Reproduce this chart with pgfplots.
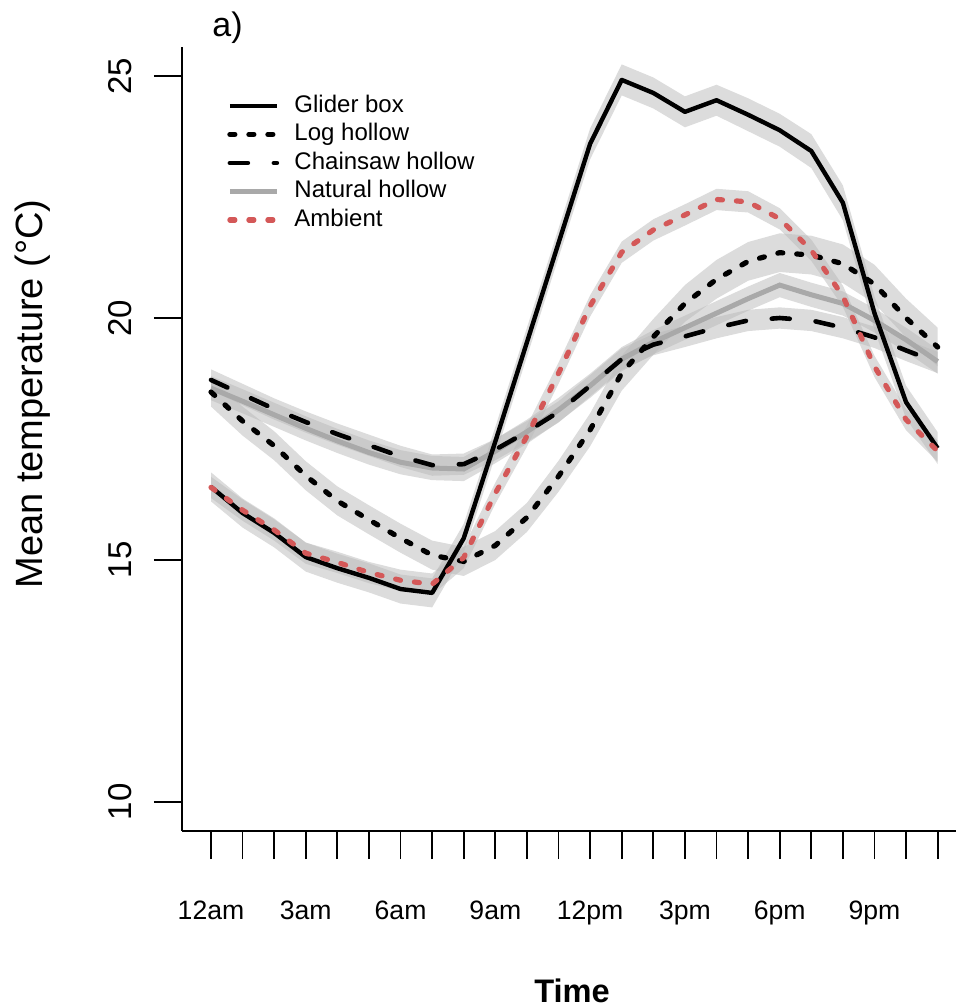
\documentclass[border=0pt]{standalone}
\usepackage{fontspec}
\setmainfont{Liberation Sans}
\usepackage{pgfplots}
\usepackage{pgfplotstable}
\usepgfplotslibrary{fillbetween}
\pgfplotsset{compat=1.18}

\definecolor{ambred}{RGB}{212,88,88}
\definecolor{natgrey}{RGB}{169,169,169}
\definecolor{bandgrey}{RGB}{185,185,185}

% hour, mean, lower and upper band
\pgfplotstableread{
h m lo hi
0 16.51 16.21 16.81
1 15.97 15.67 16.27
2 15.56 15.26 15.86
3 15.06 14.76 15.36
4 14.83 14.53 15.13
5 14.63 14.33 14.93
6 14.40 14.10 14.70
7 14.32 14.02 14.62
8 15.45 15.15 15.75
9 17.45 17.15 17.75
10 19.50 19.20 19.80
11 21.55 21.25 21.85
12 23.60 23.28 23.92
13 24.92 24.60 25.24
14 24.65 24.33 24.97
15 24.26 23.94 24.58
16 24.50 24.18 24.82
17 24.20 23.86 24.54
18 23.88 23.54 24.22
19 23.45 23.10 23.80
20 22.38 22.02 22.74
21 20.10 19.75 20.45
22 18.26 17.92 18.60
23 17.31 16.98 17.64
}\glider

\pgfplotstableread{
h m lo hi
0 18.47 18.17 18.77
1 17.87 17.57 18.17
2 17.36 17.06 17.66
3 16.74 16.44 17.04
4 16.22 15.92 16.52
5 15.83 15.53 16.13
6 15.45 15.15 15.75
7 15.10 14.80 15.40
8 14.97 14.67 15.27
9 15.30 15.00 15.60
10 15.88 15.58 16.18
11 16.73 16.41 17.05
12 17.69 17.35 18.03
13 18.86 18.50 19.22
14 19.61 19.24 19.98
15 20.30 19.92 20.68
16 20.80 20.40 21.20
17 21.17 20.77 21.57
18 21.35 20.95 21.75
19 21.30 20.90 21.70
20 21.12 20.72 21.52
21 20.70 20.30 21.10
22 20.00 19.60 20.40
23 19.40 19.00 19.80
}\loghollow

\pgfplotstableread{
h m lo hi
0 18.72 18.50 18.94
1 18.42 18.20 18.64
2 18.12 17.90 18.34
3 17.85 17.63 18.07
4 17.60 17.38 17.82
5 17.37 17.15 17.59
6 17.14 16.92 17.36
7 16.96 16.74 17.18
8 16.98 16.76 17.20
9 17.28 17.06 17.50
10 17.65 17.43 17.87
11 18.06 17.84 18.28
12 18.60 18.38 18.82
13 19.15 18.93 19.37
14 19.45 19.23 19.67
15 19.62 19.40 19.84
16 19.80 19.58 20.02
17 19.95 19.73 20.17
18 20.00 19.78 20.22
19 19.95 19.73 20.17
20 19.80 19.58 20.02
21 19.60 19.38 19.82
22 19.33 19.11 19.55
23 19.08 18.86 19.30
}\chainsaw

\pgfplotstableread{
h m lo hi
0 18.55 18.30 18.80
1 18.28 18.03 18.53
2 18.00 17.75 18.25
3 17.72 17.47 17.97
4 17.46 17.21 17.71
5 17.22 16.97 17.47
6 17.02 16.77 17.27
7 16.90 16.65 17.15
8 16.88 16.63 17.13
9 17.25 17.00 17.50
10 17.65 17.40 17.90
11 18.10 17.85 18.35
12 18.60 18.35 18.85
13 19.15 18.90 19.40
14 19.50 19.25 19.75
15 19.80 19.55 20.05
16 20.10 19.85 20.35
17 20.40 20.15 20.65
18 20.68 20.43 20.93
19 20.48 20.23 20.73
20 20.30 20.05 20.55
21 19.95 19.70 20.20
22 19.55 19.30 19.80
23 19.10 18.85 19.35
}\natholl

\pgfplotstableread{
h m lo hi
0 16.50 16.28 16.72
1 16.03 15.81 16.25
2 15.62 15.40 15.84
3 15.14 14.92 15.36
4 14.95 14.73 15.17
5 14.74 14.52 14.96
6 14.58 14.36 14.80
7 14.50 14.28 14.72
8 15.05 14.83 15.27
9 16.38 16.16 16.60
10 17.56 17.34 17.78
11 18.86 18.64 19.08
12 20.25 20.03 20.47
13 21.36 21.14 21.58
14 21.82 21.60 22.04
15 22.13 21.91 22.35
16 22.45 22.23 22.67
17 22.40 22.18 22.62
18 22.05 21.83 22.27
19 21.40 21.18 21.62
20 20.45 20.23 20.67
21 19.00 18.78 19.22
22 17.90 17.68 18.12
23 17.25 17.03 17.47
}\ambient

\begin{document}
\begin{tikzpicture}
\begin{axis}[
    at={(91pt,88.5pt)}, anchor=south west,
    scale only axis, width=387pt, height=392pt,
    xmin=-0.918, xmax=23.58, ymin=9.40, ymax=25.60,
    axis x line=bottom, axis y line=left,
    axis line style={-, line width=1pt},
    xtick={0,...,23},
    xticklabels={12am,,,3am,,,6am,,,9am,,,12pm,,,3pm,,,6pm,,,9pm,,},
    ytick={10,15,20,25},
    tick align=outside, major tick length=14pt,
    tick style={line width=0.9pt, black},
    /pgf/number format/assume math mode=true,
    xticklabel style={font=\fontsize{13.3}{16}\selectfont, anchor=base, yshift=-30pt},
    yticklabel style={font=\fontsize{16.5}{20}\selectfont, rotate=90, anchor=base, yshift=11pt},
    legend style={at={(axis description cs:0.058,0.94)}, anchor=north west,
        draw=none, fill=none, inner sep=0pt,
        font=\fontsize{12}{14}\selectfont,
        nodes={inner sep=0pt, text height=9pt, text depth=2.5pt},
        row sep=2.75pt, column sep=7.5pt},
    legend cell align=left,
    legend image code/.code={\draw[#1] (0pt,0pt) -- (23.5pt,0pt);},
]
% confidence bands
\addplot[name path=gH, draw=none, forget plot] table[x=h,y=hi]{\glider};
\addplot[name path=gL, draw=none, forget plot] table[x=h,y=lo]{\glider};
\addplot[fill=bandgrey, fill opacity=0.5, draw=none, forget plot] fill between[of=gH and gL];
\addplot[name path=lH, draw=none, forget plot] table[x=h,y=hi]{\loghollow};
\addplot[name path=lL, draw=none, forget plot] table[x=h,y=lo]{\loghollow};
\addplot[fill=bandgrey, fill opacity=0.5, draw=none, forget plot] fill between[of=lH and lL];
\addplot[name path=cH, draw=none, forget plot] table[x=h,y=hi]{\chainsaw};
\addplot[name path=cL, draw=none, forget plot] table[x=h,y=lo]{\chainsaw};
\addplot[fill=bandgrey, fill opacity=0.5, draw=none, forget plot] fill between[of=cH and cL];
\addplot[name path=nH, draw=none, forget plot] table[x=h,y=hi]{\natholl};
\addplot[name path=nL, draw=none, forget plot] table[x=h,y=lo]{\natholl};
\addplot[fill=bandgrey, fill opacity=0.5, draw=none, forget plot] fill between[of=nH and nL];
\addplot[name path=aH, draw=none, forget plot] table[x=h,y=hi]{\ambient};
\addplot[name path=aL, draw=none, forget plot] table[x=h,y=lo]{\ambient};
\addplot[fill=bandgrey, fill opacity=0.5, draw=none, forget plot] fill between[of=aH and aL];

% mean lines
\addplot[natgrey, line width=2.5pt, forget plot] table[x=h,y=m]{\natholl};
\addplot[black, line width=2.2pt, line join=round, forget plot] table[x=h,y=m]{\glider};
\addplot[black, line width=2.6pt, line cap=round, dash pattern=on 2.5pt off 7pt, forget plot] table[x=h,y=m]{\loghollow};
\addplot[black, line width=2.3pt, line cap=round, dash pattern=on 9pt off 13pt, forget plot] table[x=h,y=m]{\chainsaw};
\addplot[ambred, line width=2.6pt, line cap=round, dash pattern=on 2.5pt off 7pt, forget plot] table[x=h,y=m]{\ambient};

\addlegendimage{black, line width=2.2pt}
\addlegendentry{Glider box}
\addlegendimage{black, line width=2.6pt, line cap=round, dash pattern=on 2.5pt off 7pt}
\addlegendentry{Log hollow}
\addlegendimage{black, line width=2.3pt, line cap=round, dash pattern=on 9pt off 13pt}
\addlegendentry{Chainsaw hollow}
\addlegendimage{natgrey, line width=2.5pt}
\addlegendentry{Natural hollow}
\addlegendimage{ambred, line width=2.6pt, line cap=round, dash pattern=on 2.5pt off 7pt}
\addlegendentry{Ambient}
\end{axis}
\node[rotate=90, anchor=base, inner sep=0pt, font=\fontsize{19}{22}\selectfont] at (21pt,307pt) {Mean temperature (°C)};
\node[anchor=base, inner sep=0pt, font=\bfseries\fontsize{16.3}{19}\selectfont] at (286pt,2.5pt) {Time};
\node[anchor=base west, inner sep=0pt, font=\fontsize{17}{20}\selectfont] at (106pt,485.5pt) {a)};
\pgfresetboundingbox
\path[use as bounding box] (0,0) rectangle (478pt,504pt);
\end{tikzpicture}
\end{document}
